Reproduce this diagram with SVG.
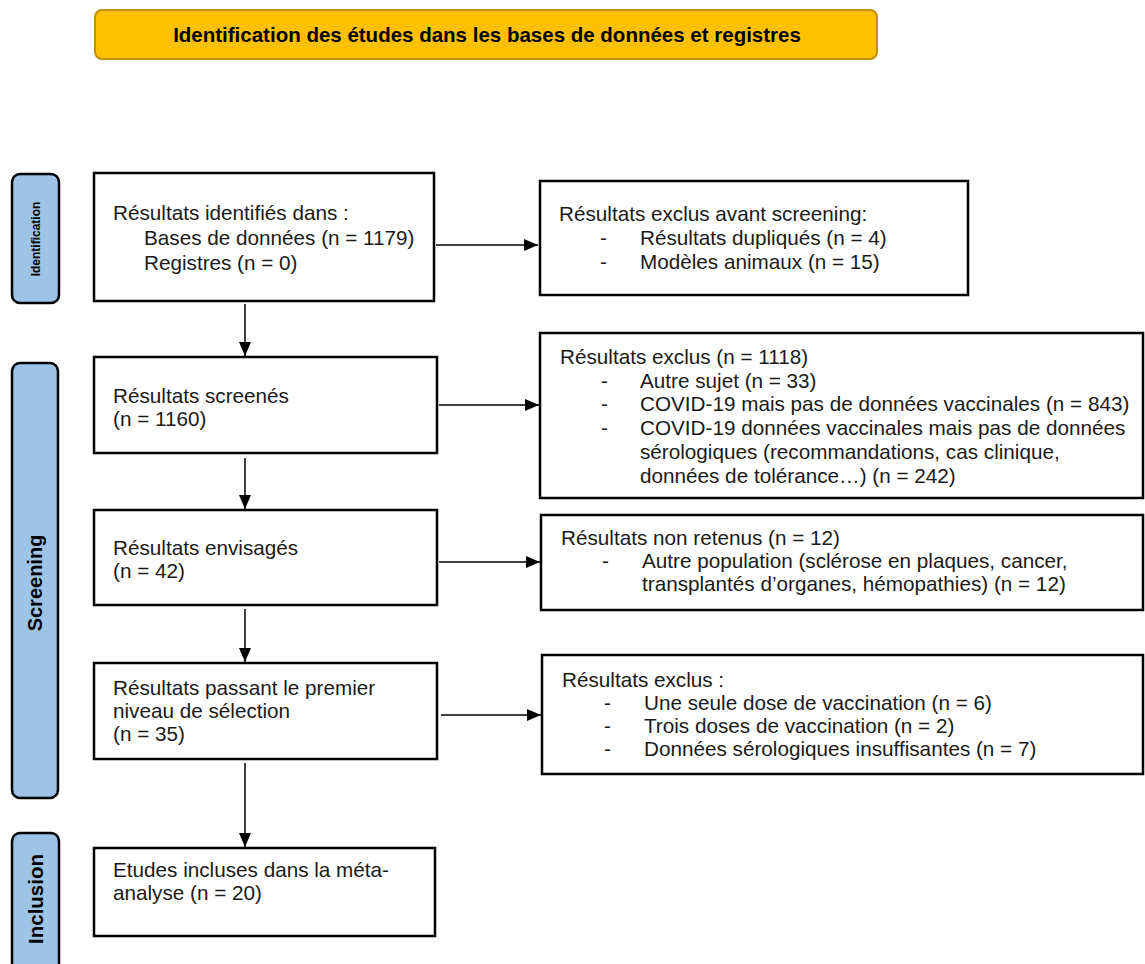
<svg xmlns="http://www.w3.org/2000/svg" width="1145" height="964" viewBox="0 0 1145 964">
<style>
.box{fill:#fff;stroke:#000;stroke-width:2.5}
.bar{fill:#9DC3E6;stroke:#000;stroke-width:2.5}
.t{font-family:"Liberation Sans",Arial,sans-serif;font-size:20.7px;fill:#1a1a1a}
.bt{font-family:"Liberation Sans",Arial,sans-serif;font-weight:bold;fill:#000}
.con{stroke:#000;stroke-width:1.5;fill:none;marker-end:url(#ah)}
</style>
<defs>
<marker id="ah" viewBox="0 0 14 12" refX="14" refY="6" markerWidth="14" markerHeight="12" markerUnits="userSpaceOnUse" orient="auto">
<path d="M0,0 L14,6 L0,12 z" fill="#000"/>
</marker>
</defs>
<rect width="1145" height="964" fill="#fff"/>

<g id="title">
<rect x="95" y="10" width="782" height="49" rx="7" fill="#FFC000" stroke="#BF9000" stroke-width="2"/>
<text class="bt" x="487" y="42" font-size="20.5" text-anchor="middle">Identification des études dans les bases de données et registres</text>
</g>

<g id="bar-identification">
<rect class="bar" x="12" y="174" width="47" height="129" rx="8"/>
<text class="bt" font-size="12" text-anchor="middle" transform="translate(40,239) rotate(-90)">Identification</text>
</g>
<g id="bar-screening">
<rect class="bar" x="12" y="363" width="46" height="435" rx="8"/>
<text class="bt" font-size="20" text-anchor="middle" transform="translate(42,583) rotate(-90)">Screening</text>
</g>
<g id="bar-inclusion">
<rect class="bar" x="12" y="833" width="47" height="150" rx="8"/>
<text class="bt" font-size="20.5" text-anchor="middle" transform="translate(43,899) rotate(-90)">Inclusion</text>
</g>

<g id="b1">
<rect class="box" x="94" y="173" width="340" height="128"/>
<text class="t" x="113" y="220">Résultats identifiés dans :</text>
<text class="t" x="144" y="245">Bases de données (n = 1179)</text>
<text class="t" x="144" y="270">Registres (n = 0)</text>
</g>
<g id="b2">
<rect class="box" x="94" y="357" width="343" height="96"/>
<text class="t" x="113" y="403">Résultats screenés</text>
<text class="t" x="113" y="426">(n = 1160)</text>
</g>
<g id="b3">
<rect class="box" x="94" y="510" width="343" height="95"/>
<text class="t" x="113" y="555">Résultats envisagés</text>
<text class="t" x="113" y="578">(n = 42)</text>
</g>
<g id="b4">
<rect class="box" x="94" y="663" width="343" height="96"/>
<text class="t" x="113" y="695">Résultats passant le premier</text>
<text class="t" x="113" y="718">niveau de sélection</text>
<text class="t" x="113" y="741">(n = 35)</text>
</g>
<g id="b5">
<rect class="box" x="94" y="848" width="341" height="88"/>
<text class="t" x="113" y="877">Etudes incluses dans la méta-</text>
<text class="t" x="113" y="900">analyse (n = 20)</text>
</g>

<g id="r1">
<rect class="box" x="540" y="181" width="428" height="114"/>
<text class="t" x="559" y="221">Résultats exclus avant screening:</text>
<text class="t" x="600" y="245">-</text>
<text class="t" x="640" y="245">Résultats dupliqués (n = 4)</text>
<text class="t" x="600" y="269">-</text>
<text class="t" x="640" y="269">Modèles animaux (n = 15)</text>
</g>
<g id="r2">
<rect class="box" x="540" y="333" width="603" height="165"/>
<text class="t" x="560" y="364">Résultats exclus (n = 1118)</text>
<text class="t" x="601" y="388">-</text>
<text class="t" x="640" y="388">Autre sujet (n = 33)</text>
<text class="t" x="601" y="411">-</text>
<text class="t" x="640" y="411">COVID-19 mais pas de données vaccinales (n = 843)</text>
<text class="t" x="601" y="435">-</text>
<text class="t" x="640" y="435">COVID-19 données vaccinales mais pas de données</text>
<text class="t" x="640" y="459">sérologiques (recommandations, cas clinique,</text>
<text class="t" x="640" y="483">données de tolérance…) (n = 242)</text>
</g>
<g id="r3">
<rect class="box" x="541" y="515" width="602" height="95"/>
<text class="t" x="561" y="545">Résultats non retenus (n = 12)</text>
<text class="t" x="602" y="568">-</text>
<text class="t" x="642" y="568">Autre population (sclérose en plaques, cancer,</text>
<text class="t" x="642" y="591">transplantés d’organes, hémopathies) (n = 12)</text>
</g>
<g id="r4">
<rect class="box" x="542" y="655" width="601" height="119"/>
<text class="t" x="562" y="687">Résultats exclus :</text>
<text class="t" x="604" y="710">-</text>
<text class="t" x="644" y="710">Une seule dose de vaccination (n = 6)</text>
<text class="t" x="604" y="733">-</text>
<text class="t" x="644" y="733">Trois doses de vaccination (n = 2)</text>
<text class="t" x="604" y="756">-</text>
<text class="t" x="644" y="756">Données sérologiques insuffisantes (n = 7)</text>
</g>

<g id="connectors">
<line class="con" x1="436" y1="245" x2="538" y2="245"/>
<line class="con" x1="439" y1="405" x2="539" y2="405"/>
<line class="con" x1="439" y1="562" x2="540" y2="562"/>
<line class="con" x1="441" y1="715" x2="541" y2="715"/>
<line class="con" x1="245" y1="304" x2="245" y2="356"/>
<line class="con" x1="245" y1="458" x2="245" y2="509"/>
<line class="con" x1="245" y1="609" x2="245" y2="662"/>
<line class="con" x1="245" y1="763" x2="245" y2="847"/>
</g>
</svg>
